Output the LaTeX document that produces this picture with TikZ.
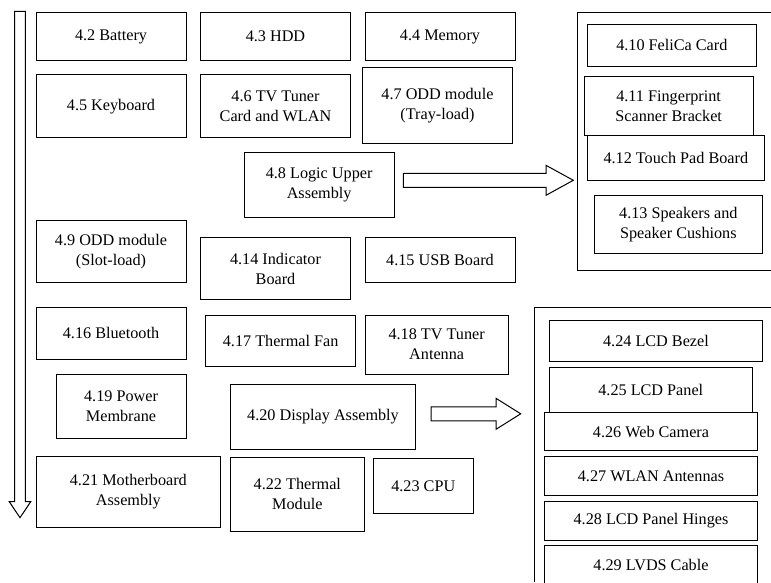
\documentclass[tikz,border=0pt]{standalone}
\usepackage{fontspec}
\setmainfont{Liberation Serif}
\tikzset{
  box/.style={draw=black, line width=1pt, fill=white, inner sep=0pt, outer sep=0pt, align=center, font=\fontsize{16.2}{20}\selectfont},
  frame/.style={draw=black, line width=1pt},
  blockarrow/.style={draw=black, line width=1pt, fill=white, line join=miter}
}
\newcommand\bx[6]{\node[box, minimum width={(#4)-(#2)}, minimum height={(#5)-(#3)}] (#1) at ({((#2)+(#4))/2},{((#3)+(#5))/2}) {#6};}
\begin{document}
\begin{tikzpicture}[x=1pt,y=-1pt]
\useasboundingbox (0,0) rectangle (771,582);
% containers (open on the right)
\coordinate (ua) at (771,12.7);
\coordinate (ub) at (577.3,12.7);
\coordinate (uc) at (577.3,270);
\coordinate (ud) at (771,270);
\draw[frame] (ua) -- (ub) -- (uc) -- (ud);
\coordinate (la) at (771,307.3);
\coordinate (lb) at (534,307.3);
\coordinate (lc) at (534,582);
\draw[frame] (la) -- (lb) -- (lc);
% left downward arrow
\draw[blockarrow] (14.7,11.3) -- (25.3,11.3) -- (25.3,501.7) -- (30.7,501.7) -- (20,517.7) -- (9.3,501.7) -- (14.7,501.7) -- cycle;
% main boxes
\bx{b2}{36}{12.7}{186}{60.3}{4.2 Battery}
\bx{b3}{200.7}{12.7}{350.3}{60.3}{4.3 HDD}
\bx{b4}{365}{12.7}{515}{60.3}{4.4 Memory}
\bx{b5}{36}{74.7}{186}{137.7}{4.5 Keyboard}
\bx{b6}{200.7}{74.7}{350.3}{137.7}{4.6 TV Tuner\\Card and WLAN}
\bx{b7}{362.7}{67.7}{512.3}{143.3}{4.7 ODD module\\(Tray-load)}
\bx{b8}{244}{152.7}{394.3}{217.3}{4.8 Logic Upper\\Assembly}
\bx{b9}{36}{220.7}{186}{282}{4.9 ODD module\\(Slot-load)}
\bx{b14}{200.7}{237.7}{350.3}{299.3}{4.14 Indicator\\Board}
\bx{b15}{365}{237.7}{515}{282}{4.15 USB Board}
\bx{b16}{36}{307}{186}{359}{4.16 Bluetooth}
\bx{b17}{205.7}{315}{355.7}{366}{\raisebox{-5pt}{4.17 Thermal Fan}}
\bx{b18}{365}{315}{508.3}{374}{4.18 TV Tuner\\Antenna}
\bx{b19}{56}{374}{186}{438.7}{4.19 Power\\Membrane}
\bx{b20}{230.7}{384.3}{415.3}{449}{4.20 Display Assembly}
\bx{b21}{36}{456.7}{220.7}{527.3}{4.21 Motherboard\\Assembly}
\bx{b22}{230.7}{457.7}{364}{531}{4.22 Thermal\\Module}
\bx{b23}{373.3}{458.7}{473.3}{513.3}{4.23 CPU}
% upper right group
\bx{b10}{587.7}{24.3}{756}{66}{4.10 FeliCa Card}
\bx{b11}{584.3}{76}{753}{135.7}{4.11 Fingerprint\\Scanner Bracket}
\bx{b12}{587.7}{135.7}{764}{180}{4.12 Touch Pad Board}
\bx{b13}{594}{195}{762.7}{253.3}{4.13 Speakers and\\Speaker Cushions}
% lower right group
\bx{b24}{549.3}{320.7}{762.7}{361.3}{4.24 LCD Bezel}
\bx{b25}{549.3}{367.3}{752.3}{412.3}{4.25 LCD Panel}
\bx{b26}{544.3}{412.3}{757.7}{450.7}{4.26 Web Camera}
\bx{b27}{544.3}{456.7}{757.7}{495.7}{4.27 WLAN Antennas}
\bx{b28}{544.3}{501}{757.7}{540}{4.28 LCD Panel Hinges}
\bx{b29}{544.3}{545.7}{757.7}{592}{\raisebox{8pt}{4.29 LVDS Cable}}
% block arrows
\draw[blockarrow] (403.3,173.3) -- (546,173.3) -- (546,165.3) -- (573.3,180.3) -- (546,195.3) -- (546,187.3) -- (403.3,187.3) -- cycle;
\draw[blockarrow] (431,406.8) -- (496,406.8) -- (496,398.3) -- (520.7,413.8) -- (496,429.3) -- (496,420.8) -- (431,420.8) -- cycle;
\end{tikzpicture}
\end{document}
